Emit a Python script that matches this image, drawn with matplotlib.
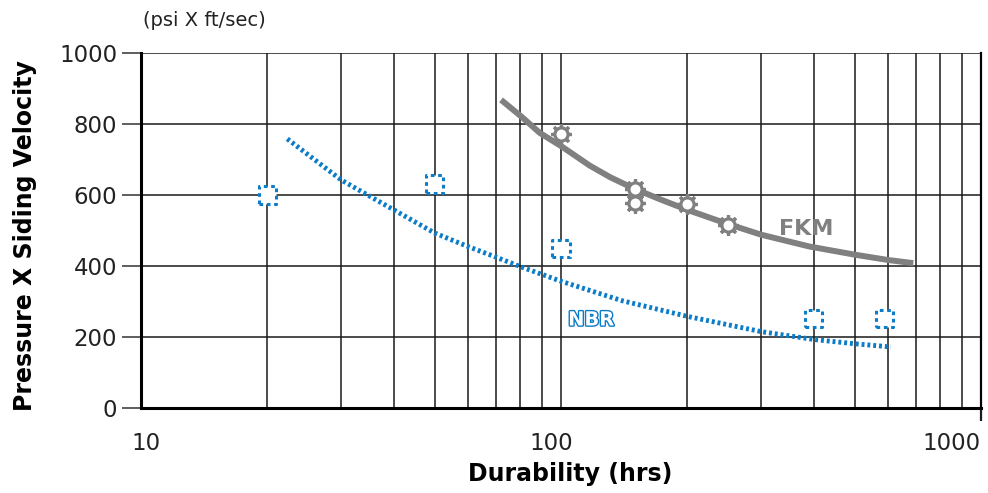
import matplotlib.pyplot as plt
import matplotlib.patheffects as pe
from matplotlib.ticker import LogLocator, NullFormatter, FixedLocator
from matplotlib.transforms import ScaledTranslation

# curves (hrs, psi x ft/sec)
fkm_curve_x = [72, 81, 89, 100, 117, 131, 148, 172, 200, 250, 300, 390, 500, 600, 690]
fkm_curve_y = [868, 818, 775, 738, 683, 650, 620, 588, 558, 518, 488, 455, 432, 417, 408]
nbr_curve_x = [22.3, 30, 40, 50, 60, 70, 81, 100, 140, 200, 300, 400, 500, 610]
nbr_curve_y = [758, 642, 558, 493, 455, 425, 396, 357, 302, 258, 215, 193, 181, 172]

# test points
fkm_pts_x = [100, 150, 150, 200, 250]
fkm_pts_y = [772, 617, 577, 575, 515]
nbr_pts_x = [20, 50, 100, 400, 590]
nbr_pts_y = [600, 631, 448, 251, 251]

yticks = [0, 200, 400, 600, 800, 1000]
xticks = [10, 100, 1000]

GRAY = "#808080"
BLUE = "#0a7cc8"

fig = plt.figure(figsize=(9.88, 4.93), dpi=100)
ax = fig.add_axes([141 / 988, 1 - 408 / 493, 840 / 988, 355 / 493])

ax.set_xscale("log")
ax.set_xlim(10, 1000)
ax.set_ylim(0, 1000)

# grid
ax.xaxis.set_major_locator(FixedLocator(xticks))
ax.xaxis.set_minor_locator(LogLocator(base=10, subs=range(2, 10)))
ax.xaxis.set_minor_formatter(NullFormatter())
ax.set_xticklabels([str(t) for t in xticks])
ax.set_yticks(yticks)
ax.grid(True, which="both", axis="x", color="#1a1a1a", lw=1.1)
ax.grid(True, which="major", axis="y", color="#1a1a1a", lw=1.1)
ax.set_axisbelow(True)

ax.spines["top"].set_visible(False)
ax.spines["left"].set_linewidth(2.2)
ax.spines["bottom"].set_linewidth(2.2)
ax.spines["right"].set_linewidth(1.6)

ax.tick_params(axis="y", length=13.7, width=1.1, color="#333333", pad=3.5,
               labelsize=16.5, labelcolor="#222222")
ax.tick_params(axis="x", which="major", length=9, width=1.6, color="#1a1a1a",
               pad=8.5, labelsize=16.5, labelcolor="#222222")
ax.tick_params(axis="x", which="minor", length=0)
for i, t in enumerate(ax.xaxis.get_major_ticks()):
    if i < 2:
        t.tick1line.set_visible(False)

# nudge x tick labels like in the original
offsets = [5, -10, 0]
for lab, dx in zip(ax.get_xticklabels(), offsets):
    lab.set_transform(lab.get_transform() + ScaledTranslation(dx / 100, 0, fig.dpi_scale_trans))
ax.get_xticklabels()[2].set_ha("right")

# FKM
ax.plot(fkm_curve_x, fkm_curve_y, color=GRAY, lw=4.3, solid_capstyle="butt",
        solid_joinstyle="round", zorder=3)
ax.plot(fkm_pts_x, fkm_pts_y, ls="none", marker=(8, 2, 0), ms=15, mew=2.3,
        color=GRAY, zorder=4)
ax.plot(fkm_pts_x, fkm_pts_y, ls="none", marker="o", ms=9.5, mew=2.3,
        mec=GRAY, mfc="white", zorder=5)

# NBR
ax.plot(nbr_curve_x, nbr_curve_y, color=BLUE, lw=3.5, ls=(0, (0.6, 0.6)),
        dash_capstyle="butt", zorder=3)
ax.scatter(nbr_pts_x, nbr_pts_y, marker="s", s=150, facecolors="white",
           edgecolors=BLUE, linewidths=2.2, linestyle=(0, (1.2, 1.2)), zorder=4)

ax.text(330, 505, "FKM", color=GRAY, fontsize=16, fontweight="bold",
        va="center", ha="left", zorder=6)
ax.text(104, 248, "NBR", color="white", fontsize=14, fontweight="bold",
        va="center", ha="left", zorder=6,
        path_effects=[pe.withStroke(linewidth=2.0, foreground=BLUE)])

fig.text(25 / 988, 1 - 236 / 493, "Pressure X Siding Velocity", rotation=90,
         ha="center", va="center", fontsize=17, fontweight="bold")
fig.text(570 / 988, 1 - 474 / 493, "Durability (hrs)", ha="center", va="center",
         fontsize=17, fontweight="bold")
fig.text(143 / 988, 1 - 20 / 493, "(psi X ft/sec)", ha="left", va="center",
         fontsize=14, color="#222222")

fig.savefig("out.png", dpi=100)
